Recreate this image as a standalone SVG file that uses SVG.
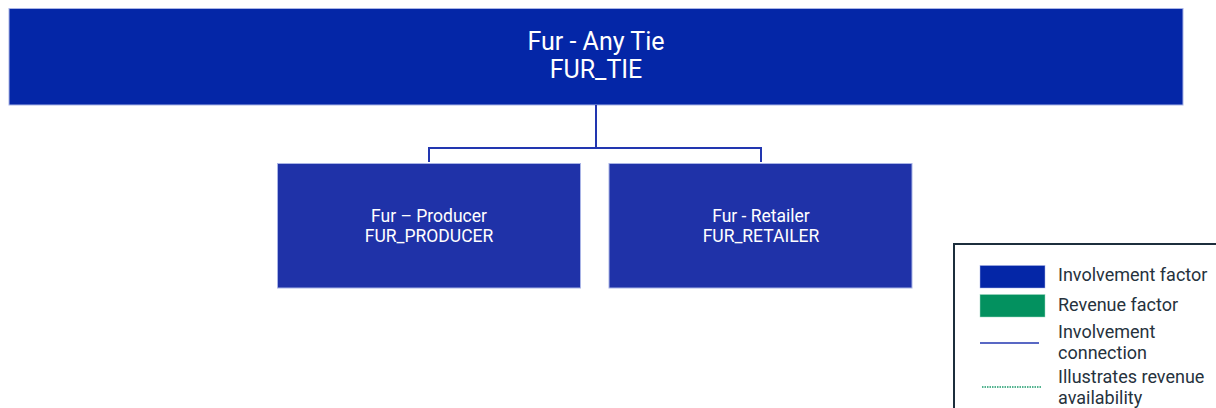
<svg xmlns="http://www.w3.org/2000/svg" width="1216" height="408" viewBox="0 0 1216 408">
<style>
.node{stroke:#a9b4e6;stroke-width:1}
.top{fill:#0426a7}
.child{fill:#1f32a8}
.t{font-family:Roboto,"Liberation Sans",sans-serif;fill:#ffffff;text-anchor:middle}
.lg{font-family:Roboto,"Liberation Sans",sans-serif;fill:#26323d;font-size:18px}
.conn{fill:none;stroke:#2236b0;stroke-width:2}
</style>
<rect width="1216" height="408" fill="#ffffff"/>
<g id="node-fur-tie">
<rect class="node top" x="9" y="8.5" width="1174" height="96.5"/>
<text class="t" x="596" y="50" font-size="25">Fur - Any Tie</text>
<text class="t" x="596" y="78" font-size="25">FUR_TIE</text>
</g>
<g id="node-fur-producer">
<rect class="node child" x="277.5" y="163.5" width="303" height="124.5"/>
<text class="t" x="429" y="222" font-size="17.5">Fur – Producer</text>
<text class="t" x="429" y="242" font-size="17.5">FUR_PRODUCER</text>
</g>
<g id="node-fur-retailer">
<rect class="node child" x="609" y="163.5" width="303" height="124.5"/>
<text class="t" x="761" y="222" font-size="17.5">Fur - Retailer</text>
<text class="t" x="761" y="242" font-size="17.5">FUR_RETAILER</text>
</g>
<g id="connectors">
<path class="conn" d="M596 105 V148 M429 148 H761 M429 147 V162 M761 147 V162"/>
</g>
<g id="legend">
<rect x="954" y="244" width="270" height="180" fill="#ffffff" stroke="#1c2e3c" stroke-width="2"/>
<rect x="980" y="265.5" width="65" height="22.5" fill="#0426a7" stroke="#a9b4e6" stroke-width="0.5"/>
<rect x="980" y="294.5" width="65" height="22.5" fill="#03915f" stroke="#9fd8c2" stroke-width="0.5"/>
<line x1="980" y1="343" x2="1039" y2="343" stroke="#2236b0" stroke-width="1.5"/>
<line x1="982" y1="387" x2="1041" y2="387" stroke="#1a9b6b" stroke-width="1.5" stroke-dasharray="1.5 1"/>
<text class="lg" x="1058" y="281">Involvement factor</text>
<text class="lg" x="1058" y="311">Revenue factor</text>
<text class="lg" x="1058" y="338">Involvement</text>
<text class="lg" x="1058" y="359">connection</text>
<text class="lg" x="1058" y="383">Illustrates revenue</text>
<text class="lg" x="1058" y="404">availability</text>
</g>
</svg>
